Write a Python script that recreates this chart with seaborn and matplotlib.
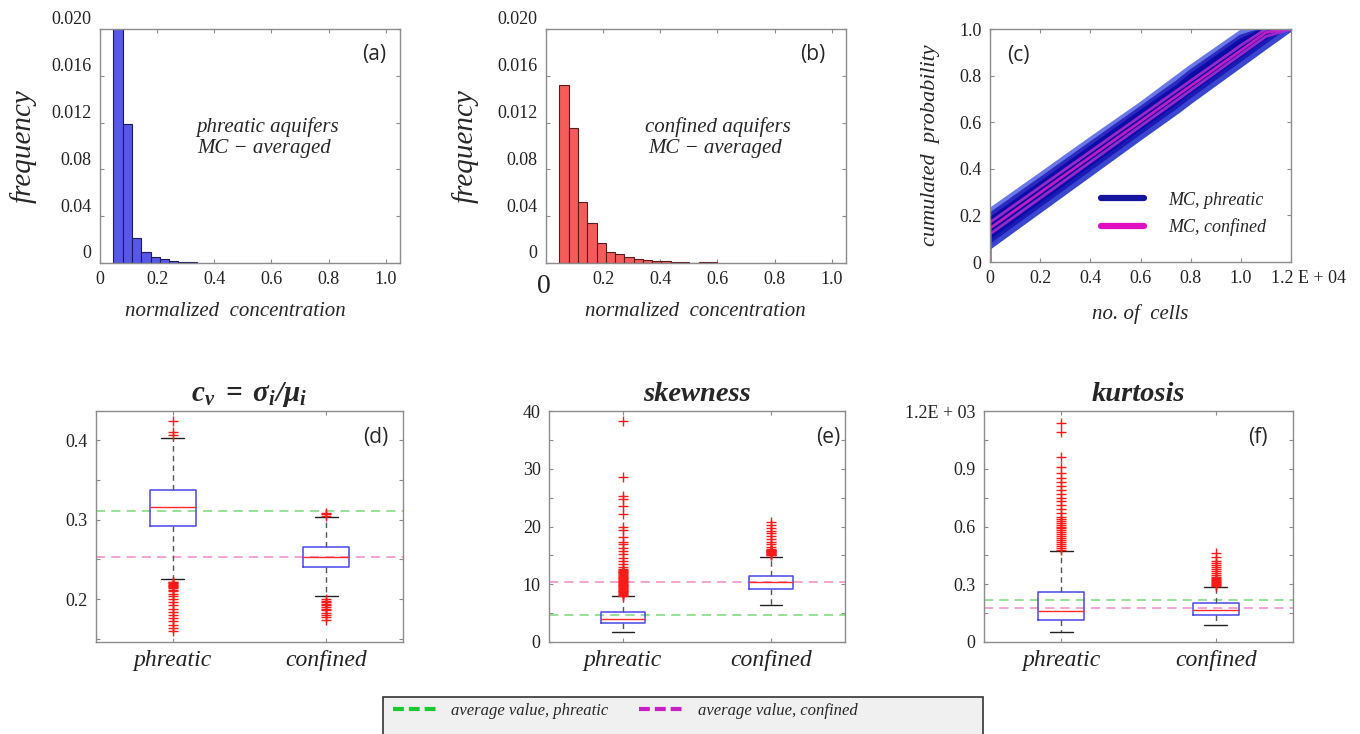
import numpy as np
import pandas as pd
import matplotlib
matplotlib.use('Agg')
import matplotlib.pyplot as plt
import matplotlib.transforms as mtransforms
from matplotlib.lines import Line2D
from matplotlib.patches import Rectangle
import seaborn as sns

# ---------------- data ----------------
# (a), (b) histograms of normalized concentration
edges_phreatic = [0.047, 0.079, 0.112, 0.144, 0.177, 0.209, 0.242, 0.274, 0.307, 0.339]
freq_phreatic = [0.0235, 0.0119, 0.00214, 0.00094, 0.00050, 0.00032, 0.00020, 0.00012, 0.00008]
edges_confined = [0.047, 0.079, 0.112, 0.144, 0.177, 0.209, 0.242, 0.274, 0.307,
                  0.339, 0.372, 0.404, 0.437, 0.469, 0.502, 0.534, 0.567, 0.599]
freq_confined = [0.01524, 0.01154, 0.00524, 0.00339, 0.00168, 0.00091, 0.00074,
                 0.00054, 0.00034, 0.00023, 0.00020, 0.00014, 0.00011, 0.00009,
                 0.0, 0.00010, 0.00008]
hist_x_ticks = [0, 0.2, 0.4, 0.6, 0.8, 1.0]
hist_x_labels = ['0', '0.2', '0.4', '0.6', '0.8', '1.0']
hist_y_ticks = [0, 0.004, 0.008, 0.012, 0.016, 0.020]
hist_y_labels = ['0', '0.04', '0.08', '0.012', '0.016', '0.020']

# (c) cumulated probability curves (x in units of 1E+04 cells)
cdf_x = [0.0, 0.2, 0.4, 0.6, 0.75, 0.8, 1.0, 1.1, 1.2]
cdf_phreatic = [
    [0.220, 0.372, 0.525, 0.675, 0.795, 0.835, 0.985, 1.0, 1.0],
    [0.200, 0.352, 0.505, 0.657, 0.772, 0.815, 0.965, 1.0, 1.0],
    [0.180, 0.333, 0.487, 0.640, 0.752, 0.797, 0.948, 1.0, 1.0],
    [0.160, 0.314, 0.469, 0.623, 0.735, 0.778, 0.931, 1.0, 1.0],
    [0.140, 0.295, 0.450, 0.605, 0.718, 0.760, 0.915, 0.992, 1.0],
    [0.120, 0.276, 0.432, 0.588, 0.700, 0.743, 0.899, 0.977, 1.0],
    [0.100, 0.257, 0.413, 0.570, 0.683, 0.726, 0.883, 0.962, 1.0],
    [0.083, 0.239, 0.396, 0.552, 0.666, 0.709, 0.865, 0.943, 1.0],
    [0.065, 0.221, 0.377, 0.533, 0.648, 0.689, 0.845, 0.923, 1.0],
]
cdf_confined = [
    [0.170, 0.322, 0.474, 0.626, 0.740, 0.778, 0.930, 1.0, 1.0],
    [0.145, 0.298, 0.451, 0.603, 0.718, 0.756, 0.908, 0.985, 1.0],
    [0.120, 0.274, 0.429, 0.583, 0.698, 0.737, 0.891, 0.968, 1.0],
]
cdf_x_ticks = [0, 0.2, 0.4, 0.6, 0.8, 1.0, 1.2]
cdf_x_labels = ['0', '0.2', '0.4', '0.6', '0.8', '1.0', '1.2 E + 04']
cdf_y_ticks = [0, 0.2, 0.4, 0.6, 0.8, 1.0]
cdf_y_labels = ['0', '0.2', '0.4', '0.6', '0.8', '1.0']

# (d)-(f) box plots: [lower whisker, q1, median, q3, upper whisker] and outliers
groups = ['phreatic', 'confined']

cv_box = {'phreatic': [0.225, 0.292, 0.316, 0.337, 0.403],
          'confined': [0.204, 0.241, 0.253, 0.266, 0.303]}
cv_out = {'phreatic': [0.222, 0.221, 0.220, 0.219, 0.218, 0.217, 0.216, 0.215, 0.214,
                       0.212, 0.210, 0.207, 0.204, 0.200, 0.196, 0.192, 0.188, 0.184,
                       0.180, 0.176, 0.172, 0.168, 0.164, 0.160, 0.407, 0.410, 0.425],
          'confined': [0.200, 0.198, 0.196, 0.194, 0.192, 0.190, 0.188, 0.186, 0.183,
                       0.180, 0.177, 0.174, 0.305, 0.307, 0.309]}
cv_mean = {'phreatic': 0.311, 'confined': 0.253}

sk_box = {'phreatic': [1.73, 3.34, 4.03, 5.18, 7.88],
          'confined': [6.33, 9.21, 10.36, 11.51, 14.79]}
sk_out = {'phreatic': [8.0, 8.15, 8.3, 8.45, 8.6, 8.75, 8.9, 9.05, 9.2, 9.35, 9.5, 9.65,
                       9.8, 9.95, 10.1, 10.25, 10.4, 10.55, 10.7, 10.85, 11.0, 11.15,
                       11.3, 11.45, 11.6, 11.75, 11.9, 12.05, 12.2, 12.35, 12.5, 12.6,
                       13.0, 13.5, 14.0, 14.6, 15.2, 15.8, 16.3, 16.9, 17.4, 18.1,
                       19.4, 19.9, 22.2, 23.6, 24.8, 25.2, 28.6, 38.3],
          'confined': [15.0, 15.1, 15.2, 15.3, 15.4, 15.5, 15.6, 15.7, 15.8, 15.9,
                       16.0, 16.1, 16.5, 16.9, 17.4, 17.8, 18.3, 18.8, 19.3, 19.8,
                       20.3, 20.8]}
sk_mean = {'phreatic': 4.72, 'confined': 10.47}

ku_box = {'phreatic': [0.052, 0.116, 0.161, 0.260, 0.474],
          'confined': [0.090, 0.142, 0.168, 0.202, 0.285]}
ku_out = {'phreatic': [0.48, 0.49, 0.50, 0.51, 0.52, 0.53, 0.54, 0.55, 0.56, 0.57,
                       0.58, 0.59, 0.60, 0.61, 0.62, 0.63, 0.64, 0.65, 0.67, 0.69,
                       0.71, 0.73, 0.75, 0.77, 0.79, 0.81, 0.83, 0.85, 0.88, 0.91,
                       0.96, 1.09, 1.14],
          'confined': [0.293, 0.298, 0.303, 0.308, 0.313, 0.318, 0.323, 0.328, 0.333,
                       0.340, 0.35, 0.36, 0.37, 0.38, 0.39, 0.40, 0.41, 0.42, 0.44, 0.46]}
ku_mean = {'phreatic': 0.216, 'confined': 0.178}

# ---------------- style ----------------
sns.set_style('white')
plt.rcParams['font.family'] = ['Liberation Serif', 'DejaVu Serif']
plt.rcParams['mathtext.fontset'] = 'custom'
plt.rcParams['mathtext.bf'] = 'Liberation Serif:bold:italic'
plt.rcParams['mathtext.rm'] = 'Liberation Serif'
plt.rcParams['mathtext.it'] = 'Liberation Serif:italic'

W, H = 1360, 734
fig = plt.figure(figsize=(W / 100, H / 100), dpi=100)


def axes_px(l, t, r, b):
    return fig.add_axes([l / W, 1 - b / H, (r - l) / W, (b - t) / H])


def style(ax):
    for s in ax.spines.values():
        s.set_visible(True)
        s.set_color('#8c8c8c')
        s.set_linewidth(1.0)
    ax.tick_params(which='both', direction='in', length=3, width=0.8, color='#8c8c8c',
                   top=True, right=True, bottom=True, left=True,
                   labelsize=13, labelcolor='#222222', pad=6)
    ax.grid(False)


def shift_labels(ax, dy_px):
    off = mtransforms.ScaledTranslation(0, dy_px / 100, fig.dpi_scale_trans)
    for lbl in ax.get_yticklabels():
        lbl.set_transform(lbl.get_transform() + off)


label_font = dict(style='italic', fontsize=15)
panel_font = dict(fontsize=15, family=['Open Sans', 'DejaVu Sans'])

# ---- (a) and (b) ----
hist_specs = [
    ((100, 29, 400, 263), edges_phreatic, freq_phreatic, '#5858e8', '#1c1c5c',
     'phreatic aquifers', '(a)', 0.557, 0.913, -0.21, 0.45),
    ((546, 29, 846, 263), edges_confined, freq_confined, '#f45c5c', '#5c1c1c',
     'confined aquifers', '(b)', 0.573, 0.89, -0.225, 0.497),
]
for i, (pos, edges, freq, fc, ec, txt, tag, tx, px, ylx, xlx) in enumerate(hist_specs):
    ax = axes_px(*pos)
    centers = [(edges[k] + edges[k + 1]) / 2 for k in range(len(freq))]
    sns.histplot(x=centers, weights=freq, bins=edges, ax=ax, color=fc,
                 edgecolor=ec, linewidth=0.8, alpha=1.0, stat='count')
    ax.set_xlim(0, 1.05)
    ax.set_ylim(0, 0.020)
    ax.set_xticks(hist_x_ticks)
    ax.set_xticklabels(hist_x_labels)
    ax.set_yticks(hist_y_ticks)
    ax.set_yticklabels(hist_y_labels)
    style(ax)
    shift_labels(ax, 11)
    ax.set_ylabel('frequency', style='italic', fontsize=21)
    ax.yaxis.set_label_coords(ylx, 0.5)
    ax.set_xlabel('normalized  concentration', **label_font)
    ax.xaxis.set_label_coords(xlx, -0.165)
    ax.text(tx, 0.58, txt, transform=ax.transAxes, ha='center', va='center',
            style='italic', fontsize=15)
    ax.text(tx - 0.01, 0.49, 'MC \u2212 averaged', transform=ax.transAxes,
            ha='center', va='center', style='italic', fontsize=15)
    ax.text(px, 0.89, tag, transform=ax.transAxes, ha='center', va='center', **panel_font)
    if i == 1:
        xl = ax.get_xticklabels()
        xl[0].set_fontsize(20)
        xl[0].set_transform(xl[0].get_transform() +
                            mtransforms.ScaledTranslation(-0.02, -0.03, fig.dpi_scale_trans))

# ---- (c) ----
axc = axes_px(990, 29, 1291, 262)
rows = []
for r, ys in enumerate(cdf_phreatic):
    for xv, yv in zip(cdf_x, ys):
        rows.append(dict(x=xv, y=yv, run=f'p{r}', grp='phreatic'))
df_p = pd.DataFrame(rows)
rows = []
for r, ys in enumerate(cdf_confined):
    rows.append(dict(x=0.0, y=0.0, run=f'c{r}', grp='confined'))
    for xv, yv in zip(cdf_x, ys):
        rows.append(dict(x=xv, y=yv, run=f'c{r}', grp='confined'))
df_c = pd.DataFrame(rows)

blue_shades = ['#6a78e6', '#2a2ac0', '#0c0ca8', '#0a0aa0', '#0c0ca8', '#0a0aa0',
               '#0c0ca8', '#1a1ab4', '#3a46d0']
for r, col in enumerate(blue_shades):
    sns.lineplot(data=df_p[df_p['run'] == f'p{r}'], x='x', y='y', ax=axc,
                 color=col, linewidth=3.6, estimator=None, sort=False, legend=False)
mag_shades = ['#b030d0', '#e020c8', '#b030d0']
for r, col in enumerate(mag_shades):
    sns.lineplot(data=df_c[df_c['run'] == f'c{r}'], x='x', y='y', ax=axc,
                 color=col, linewidth=2.0, alpha=0.85, estimator=None, sort=False,
                 legend=False)
axc.set_xlim(0, 1.2)
axc.set_ylim(0, 1.0)
axc.set_xticks(cdf_x_ticks)
axc.set_xticklabels(cdf_x_labels)
axc.set_yticks(cdf_y_ticks)
axc.set_yticklabels(cdf_y_labels)
style(axc)
last = axc.get_xticklabels()[-1]
last.set_horizontalalignment('left')
last.set_transform(last.get_transform() +
                   mtransforms.ScaledTranslation(-0.2, 0, fig.dpi_scale_trans))
axc.set_ylabel('cumulated  probability', style='italic', fontsize=16)
axc.yaxis.set_label_coords(-0.165, 0.5)
axc.set_xlabel('no. of  cells', labelpad=12, **label_font)
axc.text(0.093, 0.888, '(c)', transform=axc.transAxes, ha='center', va='center', **panel_font)
hc = [Line2D([], [], color='#1414a0', lw=4.5), Line2D([], [], color='#e010c0', lw=4.5)]
axc.legend(hc, ['MC, phreatic', 'MC, confined'], loc='lower right',
           bbox_to_anchor=(0.97, 0.04), frameon=False,
           prop={'style': 'italic', 'size': 13}, handlelength=2.4,
           handletextpad=1.3, labelspacing=0.55)

# ---- (d), (e), (f) ----
def box_sample(box, out):
    lo, q1, med, q3, hi = box
    return [lo] + [q1] * 200 + [med] * 200 + [q3] * 200 + [hi] + list(out)


box_specs = [
    ((96, 411, 403, 642), cv_box, cv_out, cv_mean, (0.146, 0.437),
     [0.2, 0.3, 0.4], ['0.2', '0.3', '0.4'], [0.15, 0.25, 0.35],
     r'$\mathbf{c_v\ =\ \sigma_i / \mu_i}$', '(d)', 0.912),
    ((549, 411, 845, 642), sk_box, sk_out, sk_mean, (0, 40),
     [0, 10, 20, 30, 40], ['0', '10', '20', '30', '40'], [5, 15, 25, 35],
     'skewness', '(e)', 0.943),
    ((984, 411, 1293, 642), ku_box, ku_out, ku_mean, (0, 1.2),
     [0, 0.3, 0.6, 0.9, 1.2], ['0', '0.3', '0.6', '0.9', '1.2E + 03'],
     [0.15, 0.45, 0.75, 1.05], 'kurtosis', '(f)', 0.887),
]
for pos, bx, out, mean, ylim, yt, ytl, ymin, title, tag, px in box_specs:
    ax = axes_px(*pos)
    rows = []
    for g in groups:
        for v in box_sample(bx[g], out[g]):
            rows.append(dict(group=g, value=v))
    df = pd.DataFrame(rows)
    ax.axhline(mean['phreatic'], color='#7ad87a', lw=1.1, dashes=(6, 4), zorder=1)
    ax.axhline(mean['confined'], color='#f08ac8', lw=1.1, dashes=(6, 4), zorder=1)
    sns.boxplot(data=df, x='group', y='value', order=groups, ax=ax, width=0.3,
                color='white', linecolor='#4848ee', linewidth=1.0, fill=False,
                boxprops=dict(color='#4848ee', linewidth=1.1),
                medianprops=dict(color='#ff2a2a', linewidth=1.0),
                whiskerprops=dict(color='#555555', linestyle=(0, (4, 3)), linewidth=1.0),
                capprops=dict(color='#222222', linewidth=1.0),
                flierprops=dict(marker='+', markeredgecolor='#ff1a1a',
                                markerfacecolor='none', markersize=7,
                                markeredgewidth=1.0))
    ax.set_xlim(-0.5, 1.5)
    ax.set_ylim(*ylim)
    ax.set_yticks(yt)
    ax.set_yticklabels(ytl)
    ax.set_yticks(ymin, minor=True)
    style(ax)
    ax.set_xticks([0, 1])
    ax.set_xticklabels(groups, style='italic', fontsize=17)
    ax.set_xlabel('')
    ax.set_ylabel('')
    if title.startswith('$'):
        ax.set_title(title, fontsize=21, pad=7)
    else:
        ax.set_title(title, fontsize=20.5, fontweight='bold', style='italic', pad=7)
    ax.text(px, 0.887, tag, transform=ax.transAxes, ha='center', va='center', **panel_font)

# ---- bottom legend ----
fig.add_artist(Rectangle((383 / W, -0.02), 600 / W, 37 / H + 0.02,
                         transform=fig.transFigure, facecolor='#f0f0f0',
                         edgecolor='#333333', lw=1.2, zorder=0))
hl = [Line2D([], [], color='#19c832', lw=3, linestyle=(0, (2.6, 1.2))),
      Line2D([], [], color='#c81ec8', lw=3, linestyle=(0, (2.6, 1.2)))]
fig.legend(hl, ['average value, phreatic', 'average value, confined'], ncol=2,
           loc='center left', bbox_to_anchor=(378 / W, 23 / H), frameon=False,
           prop={'style': 'italic', 'size': 12}, handlelength=2.8,
           handletextpad=0.7, columnspacing=1.85)

fig.savefig('out.png', dpi=100)
